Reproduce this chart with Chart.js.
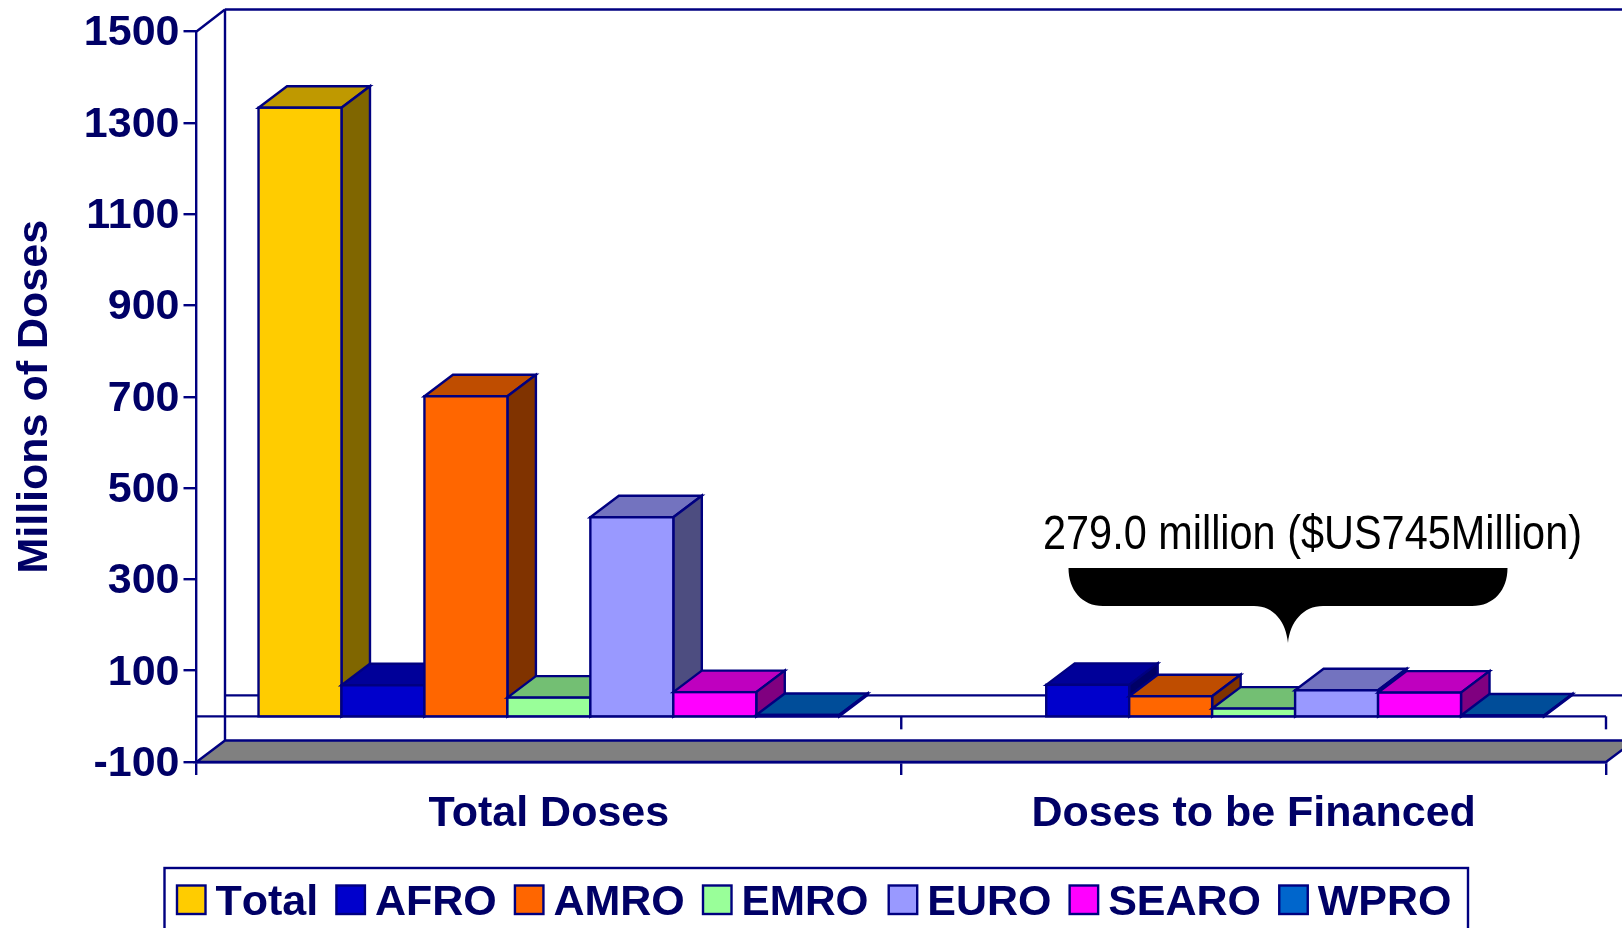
<!DOCTYPE html>
<html>
<head>
<meta charset="utf-8">
<style>html,body{margin:0;padding:0;background:#fff}canvas{display:block}</style>
<script src="https://cdn.jsdelivr.net/npm/chart.js@4"></script>
</head>
<body>
<canvas id="c" width="1622" height="928"></canvas>
<script>
const categories = ['Total Doses', 'Doses to be Financed'];
const seriesNames = ['Total', 'AFRO', 'AMRO', 'EMRO', 'EURO', 'SEARO', 'WPRO'];
const total = [1333, null];
const afro  = [68, 69];
const amro  = [701, 44];
const emro  = [41, 17];
const euro  = [436, 57];
const searo = [53, 52];
const wpro  = [3, 2];
const seriesColors = ['#FFCC00', '#0000CC', '#FF6600', '#99FF99', '#9999FF', '#FF00FF', '#0066CC'];
const seriesValues = [total, afro, amro, emro, euro, searo, wpro];
const yTicks = [-100, 100, 300, 500, 700, 900, 1100, 1300, 1500];
const calloutText = '279.0 million ($US745Million)';

const NAVY = '#000080', INK = '#000066', FONT = '"Liberation Sans", Arial, sans-serif';
const LW = 2.4;

function shade(hex, f) {
  const n = parseInt(hex.slice(1), 16);
  const c = [(n >> 16) & 255, (n >> 8) & 255, n & 255].map(v => Math.round(v * f));
  return `rgb(${c[0]},${c[1]},${c[2]})`;
}
function poly(ctx, pts, fill, stroke) {
  ctx.beginPath();
  pts.forEach((p, i) => i ? ctx.lineTo(p[0], p[1]) : ctx.moveTo(p[0], p[1]));
  ctx.closePath();
  if (fill) { ctx.fillStyle = fill; ctx.fill(); }
  if (stroke) { ctx.strokeStyle = stroke; ctx.stroke(); }
}
function seg(ctx, x1, y1, x2, y2) {
  ctx.beginPath(); ctx.moveTo(x1, y1); ctx.lineTo(x2, y2); ctx.stroke();
}

const box3d = {
  id: 'box3d',
  beforeDatasetsDraw(chart) {
    const ctx = chart.ctx, xs = chart.scales.x, ys = chart.scales.y;
    const dx = 28.5, dy = 21.5;
    const y0 = ys.getPixelForValue(0), yMin = ys.getPixelForValue(-100), yMax = ys.getPixelForValue(1500);
    const L = xs.left, R = xs.right, T = 13;
    ctx.save();
    ctx.lineWidth = LW; ctx.strokeStyle = NAVY; ctx.lineJoin = 'miter';
    // back wall
    seg(ctx, L, yMax, L + dx, yMax - 22);
    seg(ctx, L + dx, yMax - 22, R + dx, yMax - 22);
    seg(ctx, L + dx, yMax - 22, L + dx, yMin - dy);
    seg(ctx, L + dx, y0 - 21, R + dx, y0 - 21);
    // floor
    poly(ctx, [[L, yMin], [L + dx, yMin - dy], [R + dx, yMin - dy], [R, yMin]], '#808080', NAVY);
    // zero line with its ticks
    seg(ctx, L, y0, R, y0);
    [L + (R - L) / 2, R].forEach(x => seg(ctx, x, y0, x, y0 + T));
    // bars, left to right
    chart.data.datasets.forEach((ds, di) => {
      const meta = chart.getDatasetMeta(di);
      meta.data.forEach((el, idx) => {
        if (ds.data[idx] === null) return;
        const l = el.x - el.width / 2, r = el.x + el.width / 2, t = el.y, b = el.base;
        const col = ds.backgroundColor;
        poly(ctx, [[l, t], [l + dx, t - dy], [r + dx, t - dy], [r, t]], shade(col, 0.75), NAVY);
        poly(ctx, [[r, t], [r + dx, t - dy], [r + dx, b - dy], [r, b]], shade(col, 0.5), NAVY);
        el.draw(ctx);
        ctx.lineWidth = LW; ctx.strokeStyle = NAVY;
        ctx.strokeRect(l, t, r - l, b - t);
      });
    });
    ctx.restore();
    return false;
  },
  afterDraw(chart) {
    const ctx = chart.ctx;
    ctx.save();
    // callout brace
    ctx.fillStyle = '#000';
    ctx.beginPath();
    ctx.moveTo(1068.5, 568);
    ctx.lineTo(1507.5, 568);
    ctx.bezierCurveTo(1507.5, 590, 1494, 606, 1472, 606);
    ctx.lineTo(1323, 606);
    ctx.bezierCurveTo(1303, 606, 1290, 622, 1288, 643);
    ctx.bezierCurveTo(1286, 622, 1274, 606, 1254, 606);
    ctx.lineTo(1103, 606);
    ctx.bezierCurveTo(1082, 606, 1068.5, 590, 1068.5, 568);
    ctx.closePath();
    ctx.fill();
    ctx.font = '48px ' + FONT;
    ctx.textAlign = 'left'; ctx.textBaseline = 'alphabetic';
    ctx.fillText(calloutText, 1043, 549, 539);
    // legend
    ctx.lineWidth = LW; ctx.strokeStyle = NAVY;
    ctx.strokeRect(164.5, 868, 1303.5, 90);
    ctx.font = 'bold 43px ' + FONT;
    ctx.fontKerning = 'none';
    let x = 177;
    seriesNames.forEach((name, i) => {
      ctx.fillStyle = seriesColors[i];
      ctx.fillRect(x, 885.5, 28.5, 28.5);
      ctx.strokeRect(x, 885.5, 28.5, 28.5);
      ctx.fillStyle = INK;
      ctx.fillText(name, x + 38.5, 915, ctx.measureText(name).width - (name === 'EMRO' ? 2 : 0));
      x += 38.5 + ctx.measureText(name).width + 18.2;
    });
    ctx.restore();
  }
};

new Chart(document.getElementById('c'), {
  type: 'bar',
  data: {
    labels: categories,
    datasets: seriesNames.map((name, i) => ({
      label: name,
      data: seriesValues[i],
      backgroundColor: seriesColors[i],
      borderWidth: 0,
      categoryPercentage: 0.824,
      barPercentage: 1
    }))
  },
  options: {
    responsive: false,
    animation: false,
    devicePixelRatio: 1,
    layout: { padding: { top: 31.5, right: 16, bottom: 0, left: 0 } },
    plugins: { legend: { display: false }, tooltip: { enabled: false }, title: { display: false } },
    scales: {
      x: {
        type: 'category',
        afterFit(s) { s.height = 166; },
        grid: { drawOnChartArea: false, color: NAVY, lineWidth: LW, tickLength: 13, tickColor: NAVY },
        border: { color: NAVY, width: LW },
        ticks: { color: INK, font: { family: FONT, size: 43, weight: 'bold' }, padding: 13, maxRotation: 0 }
      },
      y: {
        type: 'linear',
        min: -100, max: 1500,
        afterFit(s) { s.width = 196.5; },
        afterBuildTicks(s) { s.ticks = yTicks.map(v => ({ value: v })); },
        grid: { drawOnChartArea: false, color: NAVY, lineWidth: LW, tickLength: 13, tickColor: NAVY },
        border: { color: NAVY, width: LW },
        ticks: { color: INK, font: { family: FONT, size: 43, weight: 'bold' }, padding: 4, labelOffset: 2, callback: v => String(v) },
        title: {
          display: true, text: 'Millions of Doses', color: INK,
          font: { family: FONT, size: 43, weight: 'bold' },
          padding: { top: 9, bottom: 0 }
        }
      }
    }
  },
  plugins: [box3d]
});
</script>
</body>
</html>
